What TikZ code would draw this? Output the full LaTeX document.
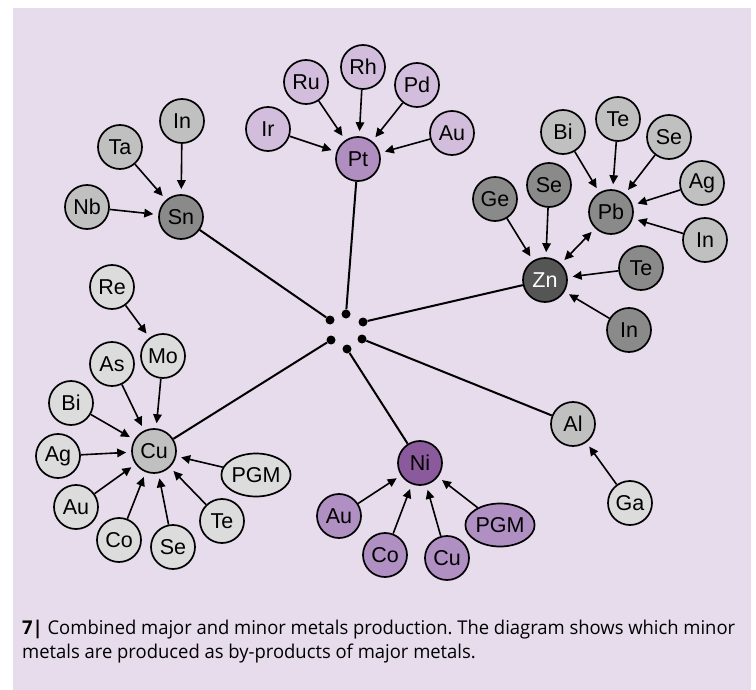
\documentclass[tikz,border=0pt]{standalone}
\usepackage{fontspec}
\setmainfont{Liberation Sans}
\newfontfamily\capfont[FakeStretch=0.97]{Open Sans}
\usetikzlibrary{arrows.meta,shapes.geometric}
\definecolor{bgc}{RGB}{230,220,236}
\definecolor{ptmain}{RGB}{176,142,192}
\definecolor{ptsat}{RGB}{210,190,220}
\definecolor{nimain}{RGB}{139,90,156}
\definecolor{nisat}{RGB}{176,143,194}
\definecolor{gdark}{RGB}{85,85,85}
\definecolor{gmid}{RGB}{138,138,138}
\definecolor{glight}{RGB}{192,192,192}
\definecolor{gpale}{RGB}{220,220,220}
\tikzset{
  metal/.style={circle,draw=black,line width=1.7pt,minimum size=44pt,inner sep=0pt,font=\fontsize{21.5}{21.5}\selectfont},
  pgmbox/.style={ellipse,draw=black,line width=1.7pt,minimum width=57pt,minimum height=43pt,inner sep=0pt,font=\fontsize{21.5}{21.5}\selectfont},
  hubdot/.style={circle,fill=black,minimum size=9pt,inner sep=0pt},
  feed/.style={line width=1.6pt,-{Triangle[length=9pt,width=8.5pt]},shorten >=5pt},
  link/.style={line width=2pt},
  captext/.style={anchor=base west,inner sep=0pt,font=\capfont\fontsize{19}{24}\selectfont\frenchspacing},
}
\begin{document}
\begin{tikzpicture}[x=1pt,y=-1pt]
\useasboundingbox (0,0) rectangle (756,690);
\fill[white] (0,0) rectangle (756,690);
\fill[bgc] (13,8) rectangle (751,690);

% hub dots
\node[hubdot] (dSn) at (330,320) {};
\node[hubdot] (dPt) at (346,314) {};
\node[hubdot] (dZn) at (363,322) {};
\node[hubdot] (dCu) at (331,340) {};
\node[hubdot] (dNi) at (347,349) {};
\node[hubdot] (dAl) at (362,339) {};

% Pt group
\node[metal,fill=ptmain] (Pt) at (358,159) {Pt};
\node[metal,fill=ptsat] (PtIr) at (268,129) {Ir};
\node[metal,fill=ptsat] (PtRu) at (306,82) {Ru};
\node[metal,fill=ptsat] (PtRh) at (363,67) {Rh};
\node[metal,fill=ptsat] (PtPd) at (417,85) {Pd};
\node[metal,fill=ptsat] (PtAu) at (452,133) {Au};

% Sn group
\node[metal,fill=gmid] (Sn) at (181,217) {Sn};
\node[metal,fill=glight] (SnIn) at (182,121) {In};
\node[metal,fill=glight] (SnTa) at (120,147) {Ta};
\node[metal,fill=glight] (SnNb) at (87,207) {Nb};

% Zn / Pb group
\node[metal,fill=gdark,text=white] (Zn) at (545,280) {Zn};
\node[metal,fill=gmid] (ZnGe) at (495,199) {Ge};
\node[metal,fill=gmid] (ZnSe) at (549,185) {Se};
\node[metal,fill=gmid] (ZnTe) at (641,268) {Te};
\node[metal,fill=gmid] (ZnIn) at (629,330) {In};
\node[metal,fill=gmid] (Pb) at (611,212) {Pb};
\node[metal,fill=glight] (PbBi) at (563,132) {Bi};
\node[metal,fill=glight] (PbTe) at (618,119) {Te};
\node[metal,fill=glight] (PbSe) at (669,137) {Se};
\node[metal,fill=glight] (PbAg) at (702,183) {Ag};
\node[metal,fill=glight] (PbIn) at (705,240) {In};

% Cu group
\node[metal,fill=glight] (Cu) at (154,451) {Cu};
\node[metal,fill=gpale] (CuRe) at (112,287) {Re};
\node[metal,fill=gpale] (CuMo) at (163,356) {Mo};
\node[metal,fill=gpale] (CuAs) at (112,364) {As};
\node[metal,fill=gpale] (CuBi) at (71,403) {Bi};
\node[metal,fill=gpale] (CuAg) at (58,456) {Ag};
\node[metal,fill=gpale] (CuAu) at (76,507) {Au};
\node[metal,fill=gpale] (CuCo) at (119,540) {Co};
\node[metal,fill=gpale] (CuSe) at (173,547) {Se};
\node[metal,fill=gpale] (CuTe) at (222,521) {Te};
\node[pgmbox,fill=gpale] (CuPGM) at (256,475) {PGM};

% Ni group
\node[metal,fill=nimain] (Ni) at (420,463) {Ni};
\node[metal,fill=nisat] (NiAu) at (339,516) {Au};
\node[metal,fill=nisat] (NiCo) at (385,555) {Co};
\node[metal,fill=nisat] (NiCu) at (447,558) {Cu};
\node[pgmbox,fill=nisat] (NiPGM) at (500,525) {PGM};

% Al group
\node[metal,fill=glight] (Al) at (573,424) {Al};
\node[metal,fill=gpale] (AlGa) at (630,503) {Ga};

% links to hub
\draw[link] (Sn) -- (dSn);
\draw[link] (Pt) -- (dPt);
\draw[link] (Zn) -- (dZn);
\draw[link] (Cu) -- (dCu);
\draw[link] (Ni) -- (dNi);
\draw[link] (Al) -- (dAl);

% feeds
\foreach \s in {PtIr,PtRu,PtRh,PtPd,PtAu} \draw[feed] (\s) -- (Pt);
\foreach \s in {SnIn,SnTa,SnNb} \draw[feed] (\s) -- (Sn);
\foreach \s in {ZnGe,ZnSe,ZnTe,ZnIn} \draw[feed] (\s) -- (Zn);
\foreach \s in {PbBi,PbTe,PbSe,PbAg,PbIn} \draw[feed] (\s) -- (Pb);
\draw[feed,{Triangle[length=9pt,width=8.5pt]}-{Triangle[length=9pt,width=8.5pt]},shorten <=5pt] (Zn) -- (Pb);
\foreach \s in {CuMo,CuAs,CuBi,CuAg,CuAu,CuCo,CuSe,CuTe,CuPGM} \draw[feed] (\s) -- (Cu);
\draw[feed] (CuRe) -- (CuMo);
\foreach \s in {NiAu,NiCo,NiCu,NiPGM} \draw[feed] (\s) -- (Ni);
\draw[feed] (AlGa) -- (Al);

% caption
\node[captext] (cap1) at (22,634)
  {\makebox[713pt][s]{\textbf{7|} Combined major and minor metals production. The diagram shows which minor}};
\node[captext] (cap2) at (22,658)
  {metals are produced as by-products of major metals.};
\end{tikzpicture}
\end{document}
